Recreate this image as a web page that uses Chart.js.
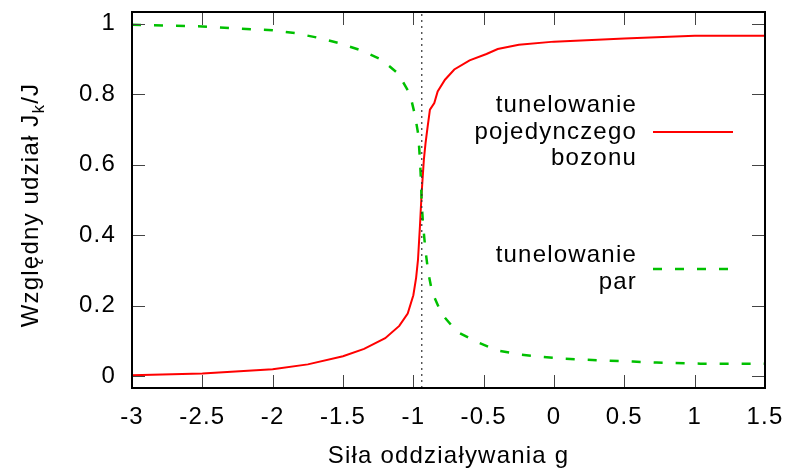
<!DOCTYPE html>
<html>
<head>
<meta charset="utf-8">
<script src="https://cdn.jsdelivr.net/npm/chart.js@4"></script>
<style>
  html, body { margin: 0; padding: 0; background: #fff; }
  #wrap { width: 789px; height: 468px; }
</style>
</head>
<body>
<div id="wrap"><canvas id="chart" width="789" height="468"></canvas></div>
<script>
// Interaction strength g and relative share of each tunnelling channel
const singleG = [-3, -2.5, -2, -1.75, -1.5, -1.35, -1.2, -1.1, -1.04, -1.0, -0.98, -0.967,
  -0.953, -0.941, -0.925, -0.913, -0.898, -0.882, -0.851, -0.827, -0.775, -0.709,
  -0.6, -0.48, -0.4, -0.25, 0, 0.5, 1.0, 1.5];
const singleShare = [0.003, 0.008, 0.02, 0.034, 0.057, 0.078, 0.108, 0.143, 0.178, 0.23, 0.28, 0.33,
  0.426, 0.52, 0.615, 0.662, 0.709, 0.756, 0.775, 0.808, 0.841, 0.87,
  0.896, 0.914, 0.928, 0.94, 0.949, 0.958, 0.966, 0.966];

const pairG = [-3, -2.5, -2, -1.84, -1.69, -1.53, -1.37, -1.225, -1.107, -1.024, -0.989, -0.965,
  -0.953, -0.945, -0.941, -0.93, -0.913, -0.894, -0.866, -0.8, -0.692, -0.55, -0.408,
  -0.242, -0.077, 0.077, 0.23, 0.397, 0.56, 0.73, 1.04, 1.5];
const pairShare = [0.997, 0.992, 0.981, 0.973, 0.961, 0.945, 0.924, 0.898, 0.858, 0.80, 0.742, 0.686,
  0.615, 0.55, 0.493, 0.426, 0.355, 0.295, 0.238, 0.178, 0.127, 0.098, 0.074,
  0.062, 0.055, 0.05, 0.047, 0.044, 0.042, 0.039, 0.036, 0.036];

const criticalG = -0.94;

const xTicks = [-3, -2.5, -2, -1.5, -1, -0.5, 0, 0.5, 1, 1.5];
const yTicks = [0, 0.2, 0.4, 0.6, 0.8, 1];
const yMin = -0.033, yMax = 1.033;

const singleLabel = ['tunelowanie', 'pojedynczego', 'bozonu'];
const pairLabel = ['tunelowanie', 'par'];

const FONT = '"Liberation Sans", Arial, Helvetica, sans-serif';
const FS = 24;
const RED = '#ff0000';
const GREEN = '#00c000';

const toPoints = (xs, ys) => xs.map((x, i) => ({ x, y: ys[i] }));

// keep the plot frame where the layout padding puts it
function noScalePadding(s) {
  s.paddingLeft = 0; s.paddingRight = 0;
  s.paddingTop = 0; s.paddingBottom = 0;
}

// slightly looser text, like the gnuplot terminal font
const textSpacing = {
  id: 'textSpacing',
  beforeDraw(chart) { chart.ctx.letterSpacing = '1.2px'; },
};

// frame + inward ticks on all four sides, gnuplot style
const framePlugin = {
  id: 'frame',
  afterDatasetsDraw(chart) {
    const { ctx, chartArea: a, scales: { x, y } } = chart;
    const len = 13;
    ctx.save();
    ctx.strokeStyle = '#444';
    ctx.lineWidth = 1;
    ctx.beginPath();
    xTicks.forEach((v) => {
      const px = Math.round(x.getPixelForValue(v)) + 0.5;
      ctx.moveTo(px, a.bottom); ctx.lineTo(px, a.bottom - len);
      ctx.moveTo(px, a.top); ctx.lineTo(px, a.top + len);
    });
    yTicks.forEach((v) => {
      const py = Math.round(y.getPixelForValue(v)) + 0.5;
      ctx.moveTo(a.left, py); ctx.lineTo(a.left + len, py);
      ctx.moveTo(a.right, py); ctx.lineTo(a.right - len, py);
    });
    ctx.stroke();
    ctx.strokeStyle = '#000';
    ctx.lineWidth = 2;
    ctx.strokeRect(a.left, a.top, a.right - a.left, a.bottom - a.top);
    ctx.restore();
  },
};

// multi-line legend entries, text right-aligned next to the line sample
const legendPlugin = {
  id: 'sideLegend',
  afterDraw(chart) {
    const { ctx, chartArea: a } = chart;
    const textRight = a.right - 128;
    const x0 = a.right - 112, x1 = a.right - 32;
    const step = 26.5;
    const entries = [
      { lines: singleLabel, y: a.top + 120, color: RED, width: 2, dash: [] },
      { lines: pairLabel, y: a.top + 257, color: GREEN, width: 2.5, dash: [9, 13] },
    ];
    ctx.save();
    ctx.font = FS + 'px ' + FONT;
    ctx.fillStyle = '#000';
    ctx.textAlign = 'right';
    ctx.textBaseline = 'middle';
    entries.forEach((e) => {
      const first = e.y - step * (e.lines.length - 1) / 2;
      e.lines.forEach((t, i) => ctx.fillText(t, textRight, first + i * step));
      ctx.strokeStyle = e.color;
      ctx.lineWidth = e.width;
      ctx.setLineDash(e.dash);
      ctx.beginPath();
      ctx.moveTo(x0, e.y);
      ctx.lineTo(x1, e.y);
      ctx.stroke();
    });
    ctx.restore();
  },
};

// rotated y title with a subscript k
const yTitlePlugin = {
  id: 'yTitle',
  afterDraw(chart) {
    const { ctx, chartArea: a } = chart;
    const parts = [
      { t: 'Względny udział J', size: FS, dy: 0 },
      { t: 'k', size: 17, dy: 6 },
      { t: '/J', size: FS, dy: 0 },
    ];
    ctx.save();
    let total = 0;
    parts.forEach((p) => {
      ctx.font = p.size + 'px ' + FONT;
      p.w = ctx.measureText(p.t).width;
      total += p.w;
    });
    ctx.translate(38, (a.top + a.bottom) / 2 + 5);
    ctx.rotate(-Math.PI / 2);
    ctx.fillStyle = '#000';
    ctx.textAlign = 'left';
    ctx.textBaseline = 'alphabetic';
    let cx = -total / 2;
    parts.forEach((p) => {
      ctx.font = p.size + 'px ' + FONT;
      ctx.fillText(p.t, cx, p.dy);
      cx += p.w;
    });
    ctx.restore();
  },
};

new Chart(document.getElementById('chart'), {
  type: 'line',
  data: {
    datasets: [
      {
        label: 'g krytyczne',
        data: [{ x: criticalG, y: yMin }, { x: criticalG, y: yMax }],
        borderColor: '#333',
        borderWidth: 1.2,
        borderDash: [2, 4],
        pointRadius: 0,
      },
      {
        label: pairLabel.join(' '),
        data: toPoints(pairG, pairShare),
        borderColor: GREEN,
        borderWidth: 2.5,
        borderDash: [9, 13],
        pointRadius: 0,
        tension: 0,
      },
      {
        label: singleLabel.join(' '),
        data: toPoints(singleG, singleShare),
        borderColor: RED,
        borderWidth: 2,
        pointRadius: 0,
        tension: 0,
      },
    ],
  },
  options: {
    responsive: false,
    animation: false,
    devicePixelRatio: 1,
    layout: { padding: { top: 12, right: 24, left: 0, bottom: 0 } },
    plugins: { legend: { display: false }, tooltip: { enabled: false } },
    scales: {
      x: {
        type: 'linear',
        min: -3,
        max: 1.5,
        afterBuildTicks: (s) => { s.ticks = xTicks.map((v) => ({ value: v })); },
        afterFit: (s) => { s.height = 80; noScalePadding(s); },
        grid: { display: false, drawTicks: false },
        border: { display: false },
        ticks: {
          color: '#000',
          padding: 15,
          maxRotation: 0,
          font: { family: FONT, size: FS },
          callback: (v) => String(v),
        },
        title: {
          display: true,
          text: 'Siła oddziaływania g',
          color: '#000',
          padding: { top: 0, bottom: 0 },
          font: { family: FONT, size: FS, lineHeight: 1 },
        },
      },
      y: {
        type: 'linear',
        min: yMin,
        max: yMax,
        afterBuildTicks: (s) => { s.ticks = yTicks.map((v) => ({ value: v })); },
        afterFit: (s) => { s.width = 132; noScalePadding(s); },
        grid: { display: false, drawTicks: false },
        border: { display: false },
        ticks: {
          color: '#000',
          padding: 16,
          font: { family: FONT, size: FS },
          callback: (v) => String(v),
        },
      },
    },
  },
  plugins: [textSpacing, framePlugin, legendPlugin, yTitlePlugin],
});
</script>
</body>
</html>
